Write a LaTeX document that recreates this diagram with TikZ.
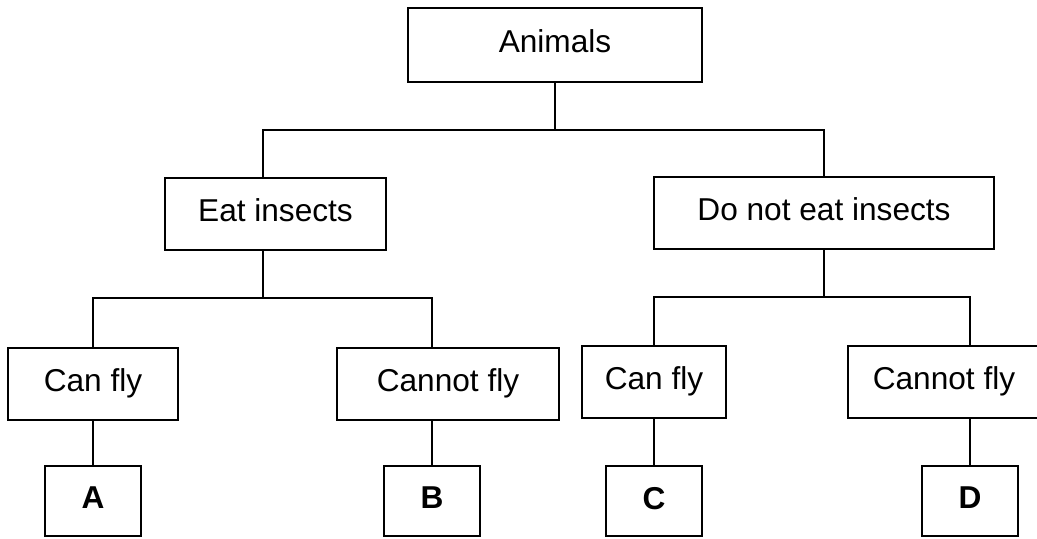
\documentclass[tikz,border=0pt]{standalone}
\usepackage{fontspec}
\setmainfont{Liberation Sans}
\usetikzlibrary{positioning}

\begin{document}
\begin{tikzpicture}[
    x=0.02cm, y=-0.02cm,
    every node/.style={font=\fontsize{18}{21}\selectfont},
    box/.style 2 args={rectangle, draw=black, line width=1pt,
                 minimum width=#1*0.02cm, minimum height=#2*0.02cm,
                 inner sep=0pt, text depth=0.45em},
    leaf/.style={box={96}{70}, text depth=0.33em,
                 font=\fontsize{18}{21}\selectfont\bfseries},
    link/.style={line width=1pt, line join=miter},
]
\useasboundingbox (0,0) rectangle (1037,538);

% ---------------- top
\node[box={294}{74}] (animals) at (555, 45) {Animals};

% ---------------- second row
\node[box={221}{72}] (eat)   at (275.5, 214) {Eat insects};
\node[box={340}{72}] (noeat) at (824, 213)   {Do not eat insects};

\coordinate (barl) at (263, 130);
\coordinate (barr) at (824, 130);
\draw[link] (animals.south) -- (animals.south |- barl);
\draw[link] (barl |- eat.north) -- (barl) -- (barr) -- (noeat.north);

% ---------------- third row
\node[box={170}{72}] (canl)    at (93, 384)  {Can fly};
\node[box={222}{72}] (cannotl) at (448, 384) {Cannot fly};
\node[box={144}{72}] (canr)    at (654, 382) {Can fly};
\node[box={192}{72}] (cannotr) at (944, 382) {Cannot fly};

\coordinate (eatl) at (93, 298);
\coordinate (eatr) at (432, 298);
\draw[link] (barl |- eat.south) -- (barl |- eatl);
\draw[link] (canl.north) -- (eatl) -- (eatr) -- (eatr |- cannotl.north);

\coordinate (noeatl) at (654, 297);
\coordinate (noeatr) at (970, 297);
\draw[link] (noeat.south) -- (noeat.south |- noeatl);
\draw[link] (canr.north) -- (noeatl) -- (noeatr) -- (noeatr |- cannotr.north);

% ---------------- the letters
\node[leaf] (a) at (93, 501)  {A};
\node[leaf] (b) at (432, 501) {B};
\node[leaf] (c) at (654, 501) {C};
\node[leaf] (d) at (970, 501) {D};

\draw[link] (canl) -- (a);
\draw[link] (eatr |- cannotl.south) -- (b);
\draw[link] (canr) -- (c);
\draw[link] (noeatr |- cannotr.south) -- (d);
\end{tikzpicture}
\end{document}
